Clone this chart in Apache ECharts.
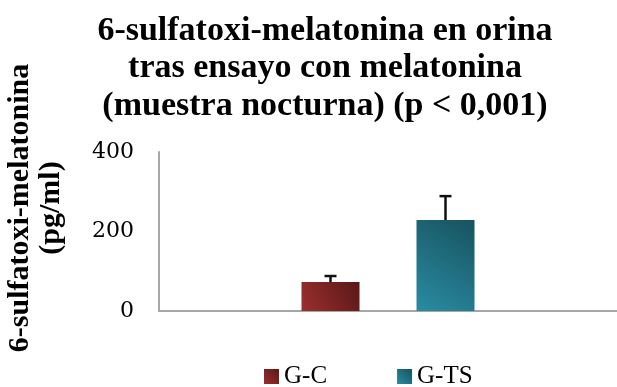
<!DOCTYPE html>
<html>
<head>
<meta charset="utf-8">
<script src="https://cdn.jsdelivr.net/npm/echarts@6/dist/echarts.min.js"></script>
<style>
  html, body { margin: 0; padding: 0; background: #fff; }
  #chart { width: 617px; height: 387px; }
</style>
</head>
<body>
<div id="chart"></div>
<script>
// Urinary 6-sulfatoxymelatonin after the melatonin trial (night sample)
const categories = ['Muestra nocturna'];
const seriesNames = ['G-C', 'G-TS'];
const meanGC = [73];
const meanGTS = [229];
const errGC = [15];
const errGTS = [60];
const yTicks = { min: 0, max: 400, interval: 200 };

const SERIF = '"Liberation Serif", "Times New Roman", serif';
const SERIF_WIDE = '"DejaVu Serif", "Liberation Serif", serif';
const BAR_W = 58;
const BAR_GAP_PX = 57;

function grad(light, dark) {
  return new echarts.graphic.LinearGradient(0, 1, 1, 0, [
    { offset: 0, color: light },
    { offset: 1, color: dark }
  ]);
}
const colGC = grad('#9c2f2f', '#5a1717');
const colGTS = grad('#2a8ca2', '#17525f');

// error whiskers: [category index, mean, error, series slot]
const errData = [];
categories.forEach((c, i) => {
  errData.push([i, meanGC[i], errGC[i], 0]);
  errData.push([i, meanGTS[i], errGTS[i], 1]);
});

function renderErr(params, api) {
  const slot = api.value(3);
  const base = api.coord([api.value(0), api.value(1)]);
  const top = api.coord([api.value(0), api.value(1) + api.value(2)]);
  const off = (slot - 0.5) * (BAR_W + BAR_GAP_PX);
  const x = base[0] + off;
  const half = 6;
  const st = { stroke: '#111', lineWidth: 2.5 };
  return {
    type: 'group',
    children: [
      { type: 'line', shape: { x1: x, y1: base[1], x2: x, y2: top[1] }, style: st },
      { type: 'line', shape: { x1: x - half, y1: top[1], x2: x + half, y2: top[1] }, style: st }
    ]
  };
}

const chart = echarts.init(document.getElementById('chart'), null, { renderer: 'canvas' });
chart.setOption({
  animation: false,
  backgroundColor: '#fff',
  title: {
    text: '6-sulfatoxi-melatonina en orina\ntras ensayo con melatonina\n(muestra nocturna) (p < 0,001)',
    left: 320,
    top: 7,
    textAlign: 'center',
    textStyle: {
      fontFamily: SERIF,
      fontWeight: 'bold',
      fontSize: 34,
      lineHeight: 37.5,
      color: '#000'
    }
  },
  graphic: [{
    type: 'text',
    x: 36,
    y: 208,
    rotation: Math.PI / 2,
    style: {
      text: '6-sulfatoxi-melatonina\n(pg/ml)',
      font: 'bold 30px ' + SERIF,
      lineHeight: 31,
      fill: '#000',
      align: 'center',
      verticalAlign: 'middle'
    }
  }],
  legend: {
    data: seriesNames,
    bottom: -7,
    left: 259,
    itemWidth: 15,
    itemHeight: 15,
    itemGap: 70,
    icon: 'rect',
    textStyle: { fontFamily: SERIF, fontSize: 25, color: '#000' }
  },
  grid: { left: 159, right: 0, top: 152, bottom: 76 },
  xAxis: {
    type: 'category',
    data: categories,
    axisLine: { lineStyle: { color: '#a6a6a6', width: 2 } },
    axisTick: { show: false },
    axisLabel: { show: false }
  },
  yAxis: {
    type: 'value',
    min: yTicks.min,
    max: yTicks.max,
    interval: yTicks.interval,
    axisLine: { show: true, lineStyle: { color: '#a6a6a6', width: 2 } },
    axisTick: { show: false },
    splitLine: { show: false },
    axisLabel: { margin: 25, fontFamily: SERIF_WIDE, fontSize: 22, color: '#000' }
  },
  series: [
    {
      name: seriesNames[0],
      type: 'bar',
      data: meanGC,
      barWidth: BAR_W,
      barGap: (BAR_GAP_PX / BAR_W * 100) + '%',
      itemStyle: { color: colGC }
    },
    {
      name: seriesNames[1],
      type: 'bar',
      data: meanGTS,
      barWidth: BAR_W,
      itemStyle: { color: colGTS }
    },
    {
      type: 'custom',
      renderItem: renderErr,
      data: errData,
      z: 5,
      silent: true,
      encode: { x: 0, y: 1 }
    }
  ]
});
</script>
</body>
</html>
